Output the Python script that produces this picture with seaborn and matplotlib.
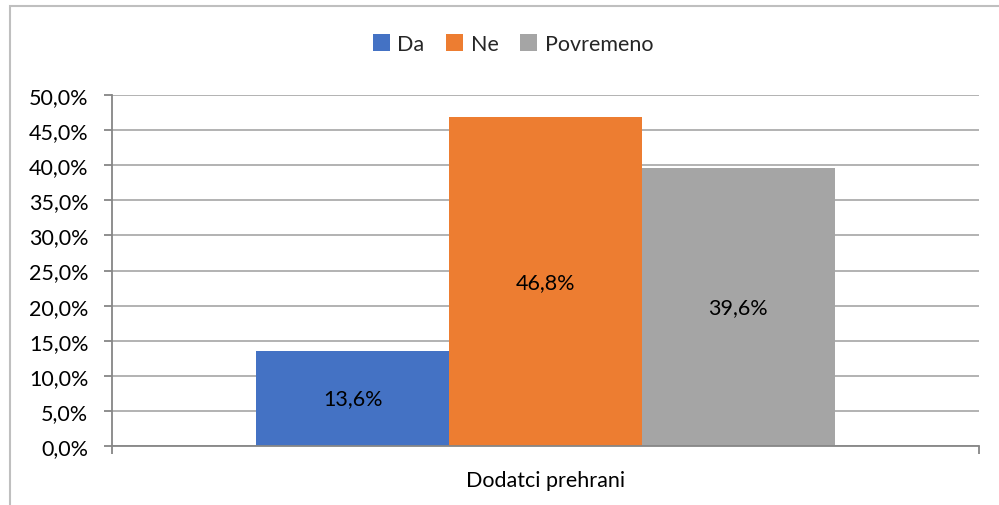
import pandas as pd
import matplotlib.pyplot as plt
import seaborn as sns
from matplotlib.patches import Rectangle
from matplotlib.ticker import FuncFormatter, FixedLocator

# Podaci
category = ["Dodatci prehrani"]
series = ["Da", "Ne", "Povremeno"]
values = [13.6, 46.8, 39.6]
colors = ["#4472C4", "#ED7D31", "#A5A5A5"]
y_ticks = [0, 5, 10, 15, 20, 25, 30, 35, 40, 45, 50]

df = pd.DataFrame({"kategorija": category * len(series), "odgovor": series, "postotak": values})

sns.set_style("white")
plt.rcParams['font.family'] = ['Lato', 'DejaVu Sans']

fig = plt.figure(figsize=(9.99, 5.06), dpi=100)
ax = fig.add_axes([112 / 999, 1 - 447 / 506, (979 - 112) / 999, (447 - 96) / 506])

sns.barplot(data=df, x="kategorija", y="postotak", hue="odgovor", palette=colors,
            width=0.667, saturation=1, linewidth=0, ax=ax, legend=True)

# Oznake na stupcima
for cont in ax.containers:
    ax.bar_label(cont, labels=[f"{v:.1f}%".replace('.', ',') for v in cont.datavalues],
                 label_type='center', fontsize=15.5, color='#000000')

ax.set_xlim(-0.5, 0.5)
ax.set_ylim(0, 50)
ax.yaxis.set_major_locator(FixedLocator(y_ticks))
ax.yaxis.set_major_formatter(FuncFormatter(lambda v, p: f"{v:.1f}%".replace('.', ',')))
ax.grid(axis='y', color='#A6A6A6', linewidth=1.2)
ax.set_axisbelow(True)
ax.set_xlabel("")
ax.set_ylabel("")

for s in ['top', 'right']:
    ax.spines[s].set_visible(False)
for s in ['left', 'bottom']:
    ax.spines[s].set_color('#868686')
    ax.spines[s].set_linewidth(1.3)

ax.tick_params(axis='y', length=6, width=1.3, color='#868686', pad=11, labelsize=15.5, labelcolor='#000000', left=True)
ax.tick_params(axis='x', which='major', length=0, pad=17, labelsize=15.5, labelcolor='#000000')
ax.set_xticks([-0.5, 0.5], minor=True)
ax.tick_params(axis='x', which='minor', length=6, width=1.3, color='#868686', bottom=True)

# Legenda
handles, labels = ax.get_legend_handles_labels()
ax.get_legend().remove()
fig.legend(handles, labels, loc='center', bbox_to_anchor=(513 / 999, 1 - 45 / 506), ncol=3,
           frameon=False, fontsize=15.5, handlelength=0.8, handleheight=0.8,
           handletextpad=0.35, columnspacing=1.0)

# Okvir grafikona
fig.patches.append(Rectangle((10 / 999, -0.1), 1.2, 1.1 - 7 / 506, transform=fig.transFigure,
                             fill=False, edgecolor='#BFBFBF', linewidth=1.5))

plt.savefig('out.png', dpi=100)
